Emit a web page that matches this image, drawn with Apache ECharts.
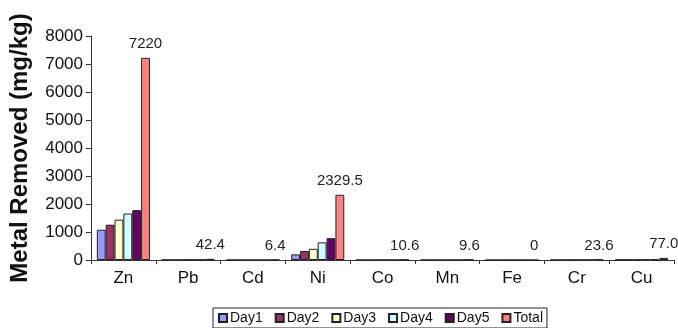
<!DOCTYPE html>
<html>
<head>
<meta charset="utf-8">
<script src="https://cdn.jsdelivr.net/npm/echarts@6/dist/echarts.min.js"></script>
<style>
  html, body { margin: 0; padding: 0; background: #fff; }
  #chart { width: 678px; height: 328px; }
</style>
</head>
<body>
<div id="chart"></div>
<script>
// Metals removed per day, mg/kg
const metals = ['Zn', 'Pb', 'Cd', 'Ni', 'Co', 'Mn', 'Fe', 'Cr', 'Cu'];
const day1 = [1080, 4.1, 0.8, 200, 1.2, 1.1, 0, 2.8, 9.2];
const day2 = [1260, 6.2, 1.0, 320, 1.6, 1.5, 0, 3.6, 11.8];
const day3 = [1440, 8.5, 1.3, 400, 2.1, 1.9, 0, 4.6, 14.6];
const day4 = [1660, 10.6, 1.5, 630, 2.6, 2.3, 0, 5.6, 18.4];
const day5 = [1780, 13.0, 1.8, 780, 3.1, 2.8, 0, 7.0, 23.0];
const totalLabels = ['7220', '42.4', '6.4', '2329.5', '10.6', '9.6', '0', '23.6', '77.0'];
const totals = totalLabels.map(Number);
const yTicks = [0, 1000, 2000, 3000, 4000, 5000, 6000, 7000, 8000];

const FONT = 'Liberation Sans, Arial, Helvetica, sans-serif';
const seriesDefs = [
  { name: 'Day1', data: day1, color: '#9999FF' },
  { name: 'Day2', data: day2, color: '#993366' },
  { name: 'Day3', data: day3, color: '#FFFFCC' },
  { name: 'Day4', data: day4, color: '#CCFFFF' },
  { name: 'Day5', data: day5, color: '#660066' },
  { name: 'Total', data: totals, color: '#FF8080' }
];

const chart = echarts.init(document.getElementById('chart'), null, { renderer: 'canvas' });

chart.setOption({
  animation: false,
  backgroundColor: '#fff',
  textStyle: { fontFamily: FONT },
  grid: { left: 89, right: 4, top: 36, bottom: 68, containLabel: false },
  legend: {
    left: 213,
    top: 308,
    padding: [3, 4, 3, 5],
    itemWidth: 8,
    itemHeight: 8,
    itemGap: 12,
    borderColor: '#222',
    borderWidth: 1,
    icon: 'rect',
    textStyle: { fontSize: 14, color: '#111', fontFamily: FONT, padding: [0, 0, 0, -2] },
    data: seriesDefs.map(s => s.name)
  },
  xAxis: {
    type: 'category',
    data: metals,
    boundaryGap: true,
    axisLine: { lineStyle: { color: '#333', width: 1 } },
    axisTick: { show: true, length: 4, alignWithLabel: false, lineStyle: { color: '#333' } },
    axisLabel: { fontSize: 17, color: '#111', margin: 10, fontFamily: FONT },
    splitLine: { show: false }
  },
  yAxis: {
    type: 'value',
    min: yTicks[0],
    max: yTicks[yTicks.length - 1],
    interval: yTicks[1] - yTicks[0],
    name: 'Metal Removed (mg/kg)',
    nameLocation: 'middle',
    nameGap: 59,
    nameRotate: 90,
    nameTextStyle: { fontSize: 24, fontWeight: 'bold', color: '#111', fontFamily: FONT },
    axisLine: { show: true, lineStyle: { color: '#333', width: 1 } },
    axisTick: { show: true, length: 5, lineStyle: { color: '#333' } },
    axisLabel: { fontSize: 17, color: '#111', margin: 8, fontFamily: FONT, formatter: v => String(v) },
    splitLine: { show: false }
  },
  series: seriesDefs.map((s, i) => ({
    name: s.name,
    type: 'bar',
    data: s.data,
    barGap: '0%',
    barCategoryGap: '18%',
    itemStyle: { color: s.color, borderColor: '#222', borderWidth: 1 },
    label: i === seriesDefs.length - 1 ? {
      show: true,
      position: 'top',
      distance: 6,
      fontSize: 15,
      color: '#222',
      fontFamily: FONT,
      formatter: p => totalLabels[p.dataIndex]
    } : { show: false }
  }))
});
</script>
</body>
</html>
